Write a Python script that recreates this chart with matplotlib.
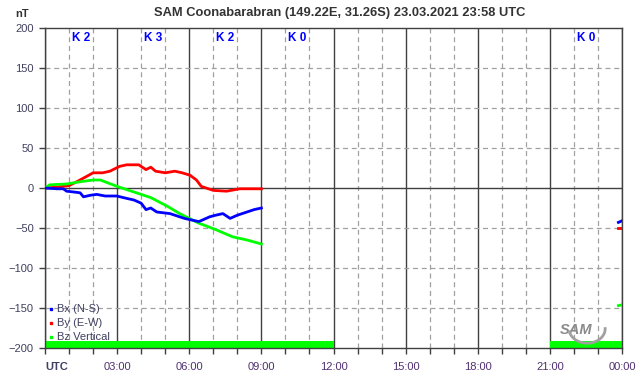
import matplotlib.pyplot as plt
from matplotlib.patches import Arc

plt.rcParams['font.family'] = ['Liberation Sans', 'DejaVu Sans']

# data (hours UTC, nT)
bx_t = [0.0, 0.5, 0.76, 0.9, 1.2, 1.46, 1.6, 1.9, 2.15, 2.5, 2.98, 3.4, 3.7, 4.0, 4.2, 4.4, 4.65, 5.2, 5.8, 6.1, 6.4, 6.85, 7.1, 7.4, 7.7, 8.0, 8.4, 8.7, 9.0]
bx_v = [0, -1, -1, -4, -5, -6, -11, -9, -8, -10, -10, -13, -15, -19, -27, -25, -30, -32, -38, -40, -42, -36, -34, -32, -38, -34, -30, -27, -25]
by_t = [0.0, 0.5, 1.0, 1.33, 1.7, 2.0, 2.4, 2.7, 3.1, 3.4, 3.9, 4.2, 4.4, 4.6, 5.0, 5.4, 5.7, 6.03, 6.3, 6.5, 7.0, 7.55, 8.1, 8.7, 9.0]
by_v = [0, 1, 3, 8, 14, 19, 19, 21, 27, 29, 29, 23, 26, 21, 19, 21, 19, 16, 10, 2, -3, -4, -1, -1, -1]
bz_t = [0.0, 0.2, 0.9, 1.5, 2.0, 2.3, 3.0, 3.7, 4.4, 5.1, 5.6, 6.4, 7.1, 7.8, 8.4, 9.0]
bz_v = [0, 4, 5, 8, 10, 10, 2, -5, -12, -23, -32, -44, -52, -61, -65, -70]
end_t = [23.85, 24.0]
bx_end = [-43, -41]
by_end = [-50, -50]
bz_end = [-147, -146]
k_hours = [1.5, 4.5, 7.5, 10.5, 22.5]
k_labels = ['K 2', 'K 3', 'K 2', 'K 0', 'K 0']
bar_spans = [(0, 12), (21, 24)]

fig = plt.figure(figsize=(6.42, 3.76), dpi=100)
ax = fig.add_axes([45 / 642, 1 - 348 / 376, 577 / 642, 320 / 376])

# grid: solid every 3 h and at zero, dashed elsewhere
for h in range(25):
    if h % 3 == 0:
        ax.axvline(h, color='#404040', lw=1.0, zorder=1)
    else:
        ax.axvline(h, color='#a0a0a0', lw=0.9, ls=(0, (4, 3)), zorder=1)
for y in range(-150, 200, 50):
    if y == 0:
        ax.axhline(y, color='#404040', lw=1.0, zorder=1)
    else:
        ax.axhline(y, color='#a0a0a0', lw=0.9, ls=(0, (4, 3)), zorder=1)

for a, b in bar_spans:
    ax.axvspan(a, b, ymin=0, ymax=9 / 400, color='#00ff00', lw=0, zorder=2)

ax.plot(by_t, by_v, color='#ff0000', lw=2, zorder=3)
ax.plot(bz_t, bz_v, color='#00ff00', lw=2, zorder=3)
ax.plot(bx_t, bx_v, color='#0000ff', lw=2, zorder=4)
ax.plot(end_t, bx_end, color='#0000ff', lw=2, zorder=4)
ax.plot(end_t, by_end, color='#ff0000', lw=2, zorder=4)
ax.plot(end_t, bz_end, color='#00ff00', lw=2, zorder=4)

for h, k in zip(k_hours, k_labels):
    ax.text(h, 188, k, color='#0000ff', fontsize=8.5, fontweight='bold',
            ha='center', va='center', zorder=5)

# legend
leg_items = [('Bx (N-S)', '#0000ff'), ('By (E-W)', '#ff0000'), ('Bz Vertical', '#00ff00')]
for i, (lab, col) in enumerate(leg_items):
    yy = -151 - i * 17.5
    ax.plot([0.25], [yy], 's', color=col, ms=1.8, zorder=5, clip_on=False)
    ax.text(0.5, yy, lab, color='#404060', fontsize=8, va='center', ha='left', zorder=5)

# logo
ax.text(22.1, -178, 'SAM', color='#8a8a8a', fontsize=10.5, fontstyle='italic',
        fontweight='bold', ha='center', va='center', zorder=5)
ax.add_patch(Arc((22.55, -176), 1.5, 36, theta1=-110, theta2=70,
                 color='#a0a0a0', lw=2, zorder=5))

ax.set_xlim(0, 24)
ax.set_ylim(-200, 200)
ax.set_xticks(range(25))
ax.set_xticklabels(['UTC' if h == 0 else ('%02d:00' % (h % 24) if h % 3 == 0 else '') for h in range(25)])
ax.set_yticks(range(-200, 201, 50))
ax.tick_params(axis='x', length=4, width=1, color='#404040', labelsize=8, labelcolor='#503070', pad=6)
ax.tick_params(axis='y', length=4, width=1, color='#404040', labelsize=8, labelcolor='#404060', pad=4)
ax.get_xticklabels()[0].set_color('#404060')
ax.get_xticklabels()[0].set_fontweight('bold')
ax.get_xticklabels()[0].set_horizontalalignment('left')
for s in ax.spines.values():
    s.set_color('#404040')
    s.set_linewidth(1.0)

fig.text(340 / 642, 1 - 13 / 376, 'SAM Coonabarabran (149.22E, 31.26S) 23.03.2021 23:58 UTC',
         ha='center', va='center', fontsize=9.3, fontweight='bold', color='#333333')
fig.text(22 / 642, 1 - 14 / 376, 'nT', ha='center', va='center', fontsize=8,
         fontweight='bold', color='#333333')

fig.savefig('out.png', dpi=100)
